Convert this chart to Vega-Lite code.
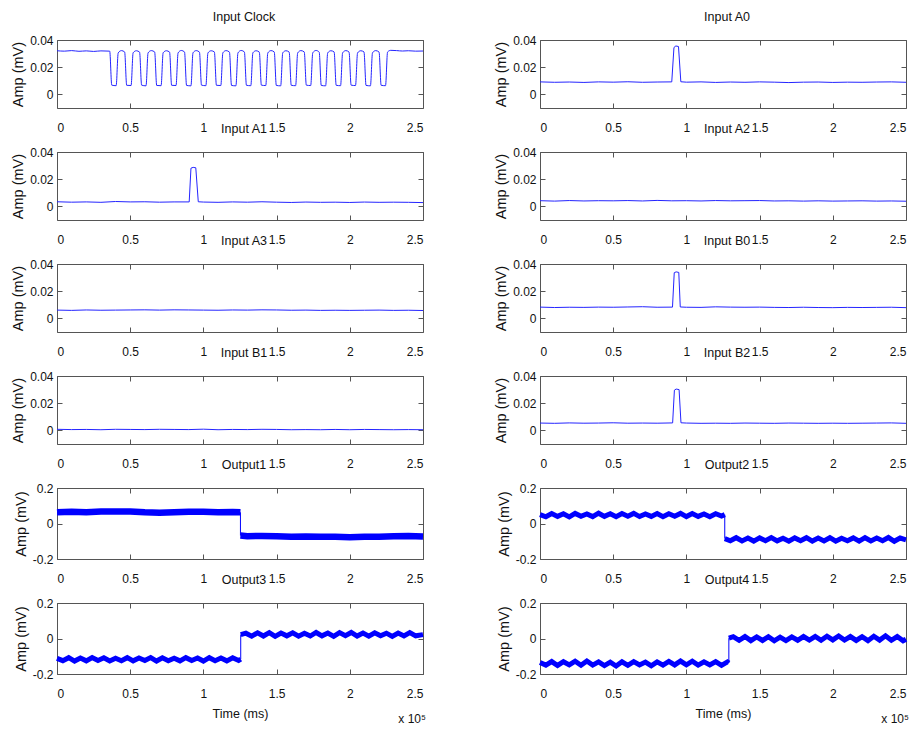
{
"$schema": "https://vega.github.io/schema/vega-lite/v6.json",
"background": "white",
"padding": {"left": 10, "top": 10, "right": 5, "bottom": 5},
"columns": 2,
"bounds": "flush",
"spacing": {"row": 44, "column": 117},
"config": {
  "font": "Liberation Sans",
  "view": {"stroke": "#555555", "strokeWidth": 1},
  "axis": {"domain": false, "grid": false, "tickSize": -5, "tickColor": "#555555", "labelFontSize": 12, "labelColor": "#111111", "titleFontSize": 12.5, "titleFontWeight": "normal", "titleColor": "#111111", "labelFont": "Liberation Sans", "titleFont": "Liberation Sans"},
  "axisBottom": {"labelPadding": 19, "titlePadding": 8},
  "axisLeft": {"labelPadding": 9, "titlePadding": 4, "titleFontSize": 14.5},
  "title": {"fontSize": 12.5, "fontWeight": "normal", "color": "#111111", "offset": 11, "baseline": "alphabetic", "dx": 4, "font": "Liberation Sans"},
  "line": {"color": "#2424ff", "strokeWidth": 1}
},
"concat": [
{"title": "Input Clock", "width": 366, "height": 68,
 "data": {"values": [{"t":0,"v":0.0321},{"t":0.05,"v":0.0318},{"t":0.1,"v":0.0322},{"t":0.15,"v":0.0317},{"t":0.2,"v":0.032},{"t":0.25,"v":0.0316},{"t":0.3,"v":0.032},{"t":0.36,"v":0.0318},
 {"t":0.374,"v":0.0068},{"t":0.404,"v":0.0064},{"t":0.418,"v":0.0305},{"t":0.44,"v":0.0322},
 {"t":0.462,"v":0.0312},{"t":0.476,"v":0.0067},{"t":0.506,"v":0.0065},{"t":0.52,"v":0.0306},{"t":0.542,"v":0.0321},
 {"t":0.564,"v":0.0311},{"t":0.578,"v":0.0068},{"t":0.608,"v":0.0063},{"t":0.622,"v":0.0305},{"t":0.644,"v":0.0322},
 {"t":0.667,"v":0.0312},{"t":0.681,"v":0.0066},{"t":0.711,"v":0.0064},{"t":0.725,"v":0.0306},{"t":0.747,"v":0.0321},
 {"t":0.769,"v":0.0311},{"t":0.783,"v":0.0067},{"t":0.813,"v":0.0065},{"t":0.827,"v":0.0305},{"t":0.849,"v":0.0323},
 {"t":0.871,"v":0.0312},{"t":0.885,"v":0.0066},{"t":0.915,"v":0.0063},{"t":0.929,"v":0.0306},{"t":0.951,"v":0.0322},
 {"t":0.973,"v":0.0311},{"t":0.987,"v":0.0068},{"t":1.017,"v":0.0064},{"t":1.031,"v":0.0305},{"t":1.053,"v":0.0321},
 {"t":1.075,"v":0.0312},{"t":1.089,"v":0.0067},{"t":1.119,"v":0.0065},{"t":1.133,"v":0.0306},{"t":1.155,"v":0.0322},
 {"t":1.178,"v":0.0311},{"t":1.192,"v":0.0066},{"t":1.222,"v":0.0063},{"t":1.236,"v":0.0305},{"t":1.258,"v":0.0323},
 {"t":1.28,"v":0.0312},{"t":1.294,"v":0.0067},{"t":1.324,"v":0.0064},{"t":1.338,"v":0.0306},{"t":1.36,"v":0.0321},
 {"t":1.382,"v":0.0311},{"t":1.396,"v":0.0068},{"t":1.426,"v":0.0065},{"t":1.44,"v":0.0305},{"t":1.462,"v":0.0322},
 {"t":1.484,"v":0.0312},{"t":1.498,"v":0.0066},{"t":1.528,"v":0.0063},{"t":1.542,"v":0.0306},{"t":1.564,"v":0.0321},
 {"t":1.586,"v":0.0311},{"t":1.6,"v":0.0067},{"t":1.63,"v":0.0064},{"t":1.644,"v":0.0305},{"t":1.666,"v":0.0322},
 {"t":1.689,"v":0.0312},{"t":1.703,"v":0.0068},{"t":1.733,"v":0.0065},{"t":1.747,"v":0.0306},{"t":1.769,"v":0.0323},
 {"t":1.791,"v":0.0311},{"t":1.805,"v":0.0066},{"t":1.835,"v":0.0063},{"t":1.849,"v":0.0305},{"t":1.871,"v":0.0321},
 {"t":1.893,"v":0.0312},{"t":1.907,"v":0.0067},{"t":1.937,"v":0.0064},{"t":1.951,"v":0.0306},{"t":1.973,"v":0.0322},
 {"t":1.995,"v":0.0311},{"t":2.009,"v":0.0068},{"t":2.039,"v":0.0065},{"t":2.053,"v":0.0305},{"t":2.075,"v":0.0321},
 {"t":2.097,"v":0.0312},{"t":2.111,"v":0.0066},{"t":2.141,"v":0.0063},{"t":2.155,"v":0.0306},{"t":2.177,"v":0.0322},
 {"t":2.2,"v":0.0311},{"t":2.214,"v":0.0067},{"t":2.244,"v":0.0064},{"t":2.258,"v":0.0312},
 {"t":2.28,"v":0.0324},{"t":2.32,"v":0.0322},{"t":2.36,"v":0.0319},{"t":2.4,"v":0.0321},{"t":2.45,"v":0.0318},{"t":2.5,"v":0.0319}]},
 "layer": [
  {"mark": {"type": "line", "interpolate": "monotone"},
   "encoding": {"x": {"field": "t", "type": "quantitative", "scale": {"domain": [0, 2.5], "nice": false}, "axis": {"values": [0, 0.5, 1, 1.5, 2, 2.5], "title": null, "labelExpr": "toString(datum.value)"}},
                "y": {"field": "v", "type": "quantitative", "scale": {"domain": [-0.01, 0.04], "nice": false, "zero": false}, "axis": {"values": [0, 0.02, 0.04], "title": "Amp (mV)", "labelExpr": "toString(datum.value)"}}}},
  {"mark": {"type": "point", "opacity": 0},
   "encoding": {"x": {"field": "t", "type": "quantitative", "axis": {"orient": "top", "values": [0, 0.5, 1, 1.5, 2, 2.5], "labels": false, "title": null}},
                "y": {"field": "v", "type": "quantitative", "axis": {"orient": "right", "values": [0, 0.02, 0.04], "labels": false, "title": null}}}}
 ],
 "resolve": {"axis": {"x": "independent", "y": "independent"}}},

{"title": "Input A0", "width": 366, "height": 68,
 "data": {"values": [{"t":0,"v":0.0092},{"t":0.1,"v":0.0089},{"t":0.2,"v":0.0091},{"t":0.3,"v":0.0088},{"t":0.4,"v":0.0092},{"t":0.5,"v":0.009},{"t":0.6,"v":0.0093},{"t":0.7,"v":0.0089},{"t":0.8,"v":0.0091},{"t":0.9,"v":0.0092},
 {"t":0.915,"v":0.0345},{"t":0.928,"v":0.0356},{"t":0.946,"v":0.0352},{"t":0.962,"v":0.0093},
 {"t":1.0,"v":0.009},{"t":1.1,"v":0.0092},{"t":1.2,"v":0.0088},{"t":1.3,"v":0.0091},{"t":1.4,"v":0.0089},{"t":1.5,"v":0.0092},{"t":1.6,"v":0.009},{"t":1.7,"v":0.0087},{"t":1.8,"v":0.009},{"t":1.9,"v":0.0091},{"t":2.0,"v":0.0088},{"t":2.1,"v":0.009},{"t":2.2,"v":0.0089},{"t":2.3,"v":0.0091},{"t":2.4,"v":0.0092},{"t":2.5,"v":0.0089}]},
 "layer": [
  {"mark": {"type": "line"},
   "encoding": {"x": {"field": "t", "type": "quantitative", "scale": {"domain": [0, 2.5], "nice": false}, "axis": {"values": [0, 0.5, 1, 1.5, 2, 2.5], "title": null, "labelExpr": "toString(datum.value)"}},
                "y": {"field": "v", "type": "quantitative", "scale": {"domain": [-0.01, 0.04], "nice": false, "zero": false}, "axis": {"values": [0, 0.02, 0.04], "title": "Amp (mV)", "labelExpr": "toString(datum.value)"}}}},
  {"mark": {"type": "point", "opacity": 0},
   "encoding": {"x": {"field": "t", "type": "quantitative", "axis": {"orient": "top", "values": [0, 0.5, 1, 1.5, 2, 2.5], "labels": false, "title": null}},
                "y": {"field": "v", "type": "quantitative", "axis": {"orient": "right", "values": [0, 0.02, 0.04], "labels": false, "title": null}}}}
 ],
 "resolve": {"axis": {"x": "independent", "y": "independent"}}},

{"title": "Input A1", "width": 366, "height": 68,
 "data": {"values": [{"t":0,"v":0.0034},{"t":0.1,"v":0.0031},{"t":0.2,"v":0.0033},{"t":0.3,"v":0.003},{"t":0.4,"v":0.0036},{"t":0.5,"v":0.0033},{"t":0.6,"v":0.0034},{"t":0.7,"v":0.0031},{"t":0.8,"v":0.0033},{"t":0.903,"v":0.0033},
 {"t":0.915,"v":0.0281},{"t":0.93,"v":0.0287},{"t":0.948,"v":0.0284},{"t":0.965,"v":0.0034},
 {"t":1.0,"v":0.0032},{"t":1.1,"v":0.003},{"t":1.2,"v":0.0033},{"t":1.3,"v":0.0031},{"t":1.4,"v":0.0034},{"t":1.5,"v":0.0031},{"t":1.6,"v":0.0029},{"t":1.7,"v":0.0032},{"t":1.8,"v":0.003},{"t":1.9,"v":0.0031},{"t":2.0,"v":0.0029},{"t":2.1,"v":0.0032},{"t":2.2,"v":0.003},{"t":2.3,"v":0.0031},{"t":2.4,"v":0.003},{"t":2.5,"v":0.0028}]},
 "layer": [
  {"mark": {"type": "line"},
   "encoding": {"x": {"field": "t", "type": "quantitative", "scale": {"domain": [0, 2.5], "nice": false}, "axis": {"values": [0, 0.5, 1, 1.5, 2, 2.5], "title": null, "labelExpr": "toString(datum.value)"}},
                "y": {"field": "v", "type": "quantitative", "scale": {"domain": [-0.01, 0.04], "nice": false, "zero": false}, "axis": {"values": [0, 0.02, 0.04], "title": "Amp (mV)", "labelExpr": "toString(datum.value)"}}}},
  {"mark": {"type": "point", "opacity": 0},
   "encoding": {"x": {"field": "t", "type": "quantitative", "axis": {"orient": "top", "values": [0, 0.5, 1, 1.5, 2, 2.5], "labels": false, "title": null}},
                "y": {"field": "v", "type": "quantitative", "axis": {"orient": "right", "values": [0, 0.02, 0.04], "labels": false, "title": null}}}}
 ],
 "resolve": {"axis": {"x": "independent", "y": "independent"}}},

{"title": "Input A2", "width": 366, "height": 68,
 "data": {"values": [{"t":0,"v":0.0042},{"t":0.1,"v":0.0039},{"t":0.2,"v":0.0043},{"t":0.3,"v":0.004},{"t":0.4,"v":0.0042},{"t":0.5,"v":0.0041},{"t":0.6,"v":0.0043},{"t":0.7,"v":0.004},{"t":0.8,"v":0.0044},{"t":0.9,"v":0.0041},{"t":1.0,"v":0.0042},{"t":1.1,"v":0.004},{"t":1.2,"v":0.0043},{"t":1.3,"v":0.0041},{"t":1.4,"v":0.0042},{"t":1.5,"v":0.0043},{"t":1.6,"v":0.004},{"t":1.7,"v":0.0041},{"t":1.8,"v":0.0039},{"t":1.9,"v":0.0041},{"t":2.0,"v":0.0039},{"t":2.1,"v":0.004},{"t":2.2,"v":0.0041},{"t":2.3,"v":0.0039},{"t":2.4,"v":0.004},{"t":2.5,"v":0.0038}]},
 "layer": [
  {"mark": {"type": "line"},
   "encoding": {"x": {"field": "t", "type": "quantitative", "scale": {"domain": [0, 2.5], "nice": false}, "axis": {"values": [0, 0.5, 1, 1.5, 2, 2.5], "title": null, "labelExpr": "toString(datum.value)"}},
                "y": {"field": "v", "type": "quantitative", "scale": {"domain": [-0.01, 0.04], "nice": false, "zero": false}, "axis": {"values": [0, 0.02, 0.04], "title": "Amp (mV)", "labelExpr": "toString(datum.value)"}}}},
  {"mark": {"type": "point", "opacity": 0},
   "encoding": {"x": {"field": "t", "type": "quantitative", "axis": {"orient": "top", "values": [0, 0.5, 1, 1.5, 2, 2.5], "labels": false, "title": null}},
                "y": {"field": "v", "type": "quantitative", "axis": {"orient": "right", "values": [0, 0.02, 0.04], "labels": false, "title": null}}}}
 ],
 "resolve": {"axis": {"x": "independent", "y": "independent"}}},

{"title": "Input A3", "width": 366, "height": 68,
 "data": {"values": [{"t":0,"v":0.0061},{"t":0.1,"v":0.0059},{"t":0.2,"v":0.0062},{"t":0.3,"v":0.006},{"t":0.4,"v":0.0061},{"t":0.5,"v":0.0062},{"t":0.6,"v":0.0063},{"t":0.7,"v":0.0061},{"t":0.8,"v":0.0063},{"t":0.9,"v":0.0062},{"t":1.0,"v":0.0061},{"t":1.1,"v":0.006},{"t":1.2,"v":0.0062},{"t":1.3,"v":0.0061},{"t":1.4,"v":0.0063},{"t":1.5,"v":0.0062},{"t":1.6,"v":0.006},{"t":1.7,"v":0.0061},{"t":1.8,"v":0.0059},{"t":1.9,"v":0.006},{"t":2.0,"v":0.0059},{"t":2.1,"v":0.006},{"t":2.2,"v":0.0061},{"t":2.3,"v":0.0059},{"t":2.4,"v":0.006},{"t":2.5,"v":0.0058}]},
 "layer": [
  {"mark": {"type": "line"},
   "encoding": {"x": {"field": "t", "type": "quantitative", "scale": {"domain": [0, 2.5], "nice": false}, "axis": {"values": [0, 0.5, 1, 1.5, 2, 2.5], "title": null, "labelExpr": "toString(datum.value)"}},
                "y": {"field": "v", "type": "quantitative", "scale": {"domain": [-0.01, 0.04], "nice": false, "zero": false}, "axis": {"values": [0, 0.02, 0.04], "title": "Amp (mV)", "labelExpr": "toString(datum.value)"}}}},
  {"mark": {"type": "point", "opacity": 0},
   "encoding": {"x": {"field": "t", "type": "quantitative", "axis": {"orient": "top", "values": [0, 0.5, 1, 1.5, 2, 2.5], "labels": false, "title": null}},
                "y": {"field": "v", "type": "quantitative", "axis": {"orient": "right", "values": [0, 0.02, 0.04], "labels": false, "title": null}}}}
 ],
 "resolve": {"axis": {"x": "independent", "y": "independent"}}},

{"title": "Input B0", "width": 366, "height": 68,
 "data": {"values": [{"t":0,"v":0.0083},{"t":0.1,"v":0.008},{"t":0.2,"v":0.0082},{"t":0.3,"v":0.0081},{"t":0.4,"v":0.0083},{"t":0.5,"v":0.0082},{"t":0.6,"v":0.0084},{"t":0.7,"v":0.0086},{"t":0.8,"v":0.0082},{"t":0.905,"v":0.0083},
 {"t":0.917,"v":0.0336},{"t":0.93,"v":0.0342},{"t":0.948,"v":0.0338},{"t":0.958,"v":0.0084},
 {"t":1.0,"v":0.0082},{"t":1.1,"v":0.0081},{"t":1.2,"v":0.0085},{"t":1.3,"v":0.0083},{"t":1.4,"v":0.0082},{"t":1.5,"v":0.0083},{"t":1.6,"v":0.0081},{"t":1.7,"v":0.008},{"t":1.8,"v":0.0082},{"t":1.9,"v":0.008},{"t":2.0,"v":0.0079},{"t":2.1,"v":0.0081},{"t":2.2,"v":0.008},{"t":2.3,"v":0.0081},{"t":2.4,"v":0.0082},{"t":2.5,"v":0.0079}]},
 "layer": [
  {"mark": {"type": "line"},
   "encoding": {"x": {"field": "t", "type": "quantitative", "scale": {"domain": [0, 2.5], "nice": false}, "axis": {"values": [0, 0.5, 1, 1.5, 2, 2.5], "title": null, "labelExpr": "toString(datum.value)"}},
                "y": {"field": "v", "type": "quantitative", "scale": {"domain": [-0.01, 0.04], "nice": false, "zero": false}, "axis": {"values": [0, 0.02, 0.04], "title": "Amp (mV)", "labelExpr": "toString(datum.value)"}}}},
  {"mark": {"type": "point", "opacity": 0},
   "encoding": {"x": {"field": "t", "type": "quantitative", "axis": {"orient": "top", "values": [0, 0.5, 1, 1.5, 2, 2.5], "labels": false, "title": null}},
                "y": {"field": "v", "type": "quantitative", "axis": {"orient": "right", "values": [0, 0.02, 0.04], "labels": false, "title": null}}}}
 ],
 "resolve": {"axis": {"x": "independent", "y": "independent"}}},

{"title": "Input B1", "width": 366, "height": 68,
 "data": {"values": [{"t":0,"v":0.0008},{"t":0.1,"v":0.0006},{"t":0.2,"v":0.0007},{"t":0.3,"v":0.0005},{"t":0.4,"v":0.0008},{"t":0.5,"v":0.0007},{"t":0.6,"v":0.0006},{"t":0.7,"v":0.0008},{"t":0.8,"v":0.0007},{"t":0.9,"v":0.0006},{"t":1.0,"v":0.0009},{"t":1.1,"v":0.0005},{"t":1.2,"v":0.0007},{"t":1.3,"v":0.0006},{"t":1.4,"v":0.0008},{"t":1.5,"v":0.0007},{"t":1.6,"v":0.0005},{"t":1.7,"v":0.0006},{"t":1.8,"v":0.0005},{"t":1.9,"v":0.0007},{"t":2.0,"v":0.0005},{"t":2.1,"v":0.0007},{"t":2.2,"v":0.0006},{"t":2.3,"v":0.0005},{"t":2.4,"v":0.0006},{"t":2.5,"v":0.0005}]},
 "layer": [
  {"mark": {"type": "line"},
   "encoding": {"x": {"field": "t", "type": "quantitative", "scale": {"domain": [0, 2.5], "nice": false}, "axis": {"values": [0, 0.5, 1, 1.5, 2, 2.5], "title": null, "labelExpr": "toString(datum.value)"}},
                "y": {"field": "v", "type": "quantitative", "scale": {"domain": [-0.01, 0.04], "nice": false, "zero": false}, "axis": {"values": [0, 0.02, 0.04], "title": "Amp (mV)", "labelExpr": "toString(datum.value)"}}}},
  {"mark": {"type": "point", "opacity": 0},
   "encoding": {"x": {"field": "t", "type": "quantitative", "axis": {"orient": "top", "values": [0, 0.5, 1, 1.5, 2, 2.5], "labels": false, "title": null}},
                "y": {"field": "v", "type": "quantitative", "axis": {"orient": "right", "values": [0, 0.02, 0.04], "labels": false, "title": null}}}}
 ],
 "resolve": {"axis": {"x": "independent", "y": "independent"}}},

{"title": "Input B2", "width": 366, "height": 68,
 "data": {"values": [{"t":0,"v":0.0054},{"t":0.1,"v":0.0052},{"t":0.2,"v":0.0055},{"t":0.3,"v":0.0053},{"t":0.4,"v":0.0054},{"t":0.5,"v":0.0056},{"t":0.6,"v":0.0053},{"t":0.7,"v":0.0054},{"t":0.8,"v":0.0053},{"t":0.906,"v":0.0055},
 {"t":0.918,"v":0.0296},{"t":0.93,"v":0.0304},{"t":0.95,"v":0.03},{"t":0.963,"v":0.0056},
 {"t":1.0,"v":0.0054},{"t":1.1,"v":0.0052},{"t":1.2,"v":0.0053},{"t":1.3,"v":0.0052},{"t":1.4,"v":0.0054},{"t":1.5,"v":0.0053},{"t":1.6,"v":0.0052},{"t":1.7,"v":0.0054},{"t":1.8,"v":0.0053},{"t":1.9,"v":0.0052},{"t":2.0,"v":0.0053},{"t":2.1,"v":0.0052},{"t":2.2,"v":0.0053},{"t":2.3,"v":0.0054},{"t":2.4,"v":0.0055},{"t":2.5,"v":0.0052}]},
 "layer": [
  {"mark": {"type": "line"},
   "encoding": {"x": {"field": "t", "type": "quantitative", "scale": {"domain": [0, 2.5], "nice": false}, "axis": {"values": [0, 0.5, 1, 1.5, 2, 2.5], "title": null, "labelExpr": "toString(datum.value)"}},
                "y": {"field": "v", "type": "quantitative", "scale": {"domain": [-0.01, 0.04], "nice": false, "zero": false}, "axis": {"values": [0, 0.02, 0.04], "title": "Amp (mV)", "labelExpr": "toString(datum.value)"}}}},
  {"mark": {"type": "point", "opacity": 0},
   "encoding": {"x": {"field": "t", "type": "quantitative", "axis": {"orient": "top", "values": [0, 0.5, 1, 1.5, 2, 2.5], "labels": false, "title": null}},
                "y": {"field": "v", "type": "quantitative", "axis": {"orient": "right", "values": [0, 0.02, 0.04], "labels": false, "title": null}}}}
 ],
 "resolve": {"axis": {"x": "independent", "y": "independent"}}},

{"title": "Output1", "width": 366, "height": 71,
 "data": {"values": [{"g":"a","t":0,"v":0.063},{"g":"a","t":0.1,"v":0.066},{"g":"a","t":0.2,"v":0.064},{"g":"a","t":0.3,"v":0.068},{"g":"a","t":0.4,"v":0.067},{"g":"a","t":0.5,"v":0.068},{"g":"a","t":0.6,"v":0.063},{"g":"a","t":0.7,"v":0.061},{"g":"a","t":0.8,"v":0.064},{"g":"a","t":0.9,"v":0.066},{"g":"a","t":1.0,"v":0.066},{"g":"a","t":1.1,"v":0.064},{"g":"a","t":1.2,"v":0.065},{"g":"a","t":1.253,"v":0.063},
 {"g":"s","t":1.253,"v":0.063},{"g":"s","t":1.253,"v":-0.068},
 {"g":"b","t":1.253,"v":-0.068},{"g":"b","t":1.3,"v":-0.072},{"g":"b","t":1.4,"v":-0.07},{"g":"b","t":1.5,"v":-0.072},{"g":"b","t":1.6,"v":-0.075},{"g":"b","t":1.7,"v":-0.073},{"g":"b","t":1.8,"v":-0.074},{"g":"b","t":1.9,"v":-0.075},{"g":"b","t":2.0,"v":-0.077},{"g":"b","t":2.1,"v":-0.075},{"g":"b","t":2.2,"v":-0.074},{"g":"b","t":2.3,"v":-0.072},{"g":"b","t":2.4,"v":-0.071},{"g":"b","t":2.5,"v":-0.073}]},
 "layer": [
  {"transform": [{"filter": "datum.g != 's'"}],
   "mark": {"type": "line", "color": "#0000ff", "strokeWidth": 6.5},
   "encoding": {"x": {"field": "t", "type": "quantitative", "scale": {"domain": [0, 2.5], "nice": false}, "axis": {"values": [0, 0.5, 1, 1.5, 2, 2.5], "title": null, "labelExpr": "toString(datum.value)"}},
                "y": {"field": "v", "type": "quantitative", "scale": {"domain": [-0.2, 0.2], "nice": false, "zero": false}, "axis": {"values": [-0.2, 0, 0.2], "title": "Amp (mV)", "labelExpr": "toString(datum.value)"}},
                "detail": {"field": "g"}}},
  {"transform": [{"filter": "datum.g == 's'"}],
   "mark": {"type": "line", "color": "#0000ff", "strokeWidth": 1},
   "encoding": {"x": {"field": "t", "type": "quantitative", "axis": null}, "y": {"field": "v", "type": "quantitative", "axis": null}}},
  {"mark": {"type": "point", "opacity": 0},
   "encoding": {"x": {"field": "t", "type": "quantitative", "axis": {"orient": "top", "values": [0, 0.5, 1, 1.5, 2, 2.5], "labels": false, "title": null}},
                "y": {"field": "v", "type": "quantitative", "axis": {"orient": "right", "values": [-0.2, 0, 0.2], "labels": false, "title": null}}}}
 ],
 "resolve": {"axis": {"x": "independent", "y": "independent"}}},

{"title": "Output2", "width": 366, "height": 71,
 "data": {"values": [{"g":"a","t":0,"v":0.05},{"g":"a","t":0.04,"v":0.038},{"g":"a","t":0.08,"v":0.056},{"g":"a","t":0.12,"v":0.04},{"g":"a","t":0.16,"v":0.055},{"g":"a","t":0.2,"v":0.037},{"g":"a","t":0.24,"v":0.057},{"g":"a","t":0.28,"v":0.041},{"g":"a","t":0.32,"v":0.054},{"g":"a","t":0.36,"v":0.039},{"g":"a","t":0.4,"v":0.058},{"g":"a","t":0.44,"v":0.04},{"g":"a","t":0.48,"v":0.055},{"g":"a","t":0.52,"v":0.038},{"g":"a","t":0.56,"v":0.056},{"g":"a","t":0.6,"v":0.041},{"g":"a","t":0.64,"v":0.057},{"g":"a","t":0.68,"v":0.039},{"g":"a","t":0.72,"v":0.054},{"g":"a","t":0.76,"v":0.04},{"g":"a","t":0.8,"v":0.056},{"g":"a","t":0.84,"v":0.038},{"g":"a","t":0.88,"v":0.055},{"g":"a","t":0.92,"v":0.041},{"g":"a","t":0.96,"v":0.057},{"g":"a","t":1.0,"v":0.039},{"g":"a","t":1.04,"v":0.056},{"g":"a","t":1.08,"v":0.04},{"g":"a","t":1.12,"v":0.054},{"g":"a","t":1.16,"v":0.038},{"g":"a","t":1.2,"v":0.055},{"g":"a","t":1.24,"v":0.042},{"g":"a","t":1.262,"v":0.05},
 {"g":"s","t":1.262,"v":0.05},{"g":"s","t":1.262,"v":-0.085},
 {"g":"b","t":1.262,"v":-0.085},{"g":"b","t":1.3,"v":-0.097},{"g":"b","t":1.34,"v":-0.08},{"g":"b","t":1.38,"v":-0.098},{"g":"b","t":1.42,"v":-0.082},{"g":"b","t":1.46,"v":-0.099},{"g":"b","t":1.5,"v":-0.081},{"g":"b","t":1.54,"v":-0.097},{"g":"b","t":1.58,"v":-0.079},{"g":"b","t":1.62,"v":-0.098},{"g":"b","t":1.66,"v":-0.083},{"g":"b","t":1.7,"v":-0.1},{"g":"b","t":1.74,"v":-0.081},{"g":"b","t":1.78,"v":-0.097},{"g":"b","t":1.82,"v":-0.08},{"g":"b","t":1.86,"v":-0.099},{"g":"b","t":1.9,"v":-0.082},{"g":"b","t":1.94,"v":-0.098},{"g":"b","t":1.98,"v":-0.08},{"g":"b","t":2.02,"v":-0.1},{"g":"b","t":2.06,"v":-0.083},{"g":"b","t":2.1,"v":-0.097},{"g":"b","t":2.14,"v":-0.081},{"g":"b","t":2.18,"v":-0.099},{"g":"b","t":2.22,"v":-0.08},{"g":"b","t":2.26,"v":-0.098},{"g":"b","t":2.3,"v":-0.082},{"g":"b","t":2.34,"v":-0.097},{"g":"b","t":2.38,"v":-0.079},{"g":"b","t":2.42,"v":-0.1},{"g":"b","t":2.46,"v":-0.082},{"g":"b","t":2.5,"v":-0.092}]},
 "layer": [
  {"transform": [{"filter": "datum.g != 's'"}],
   "mark": {"type": "line", "color": "#0000ff", "strokeWidth": 5},
   "encoding": {"x": {"field": "t", "type": "quantitative", "scale": {"domain": [0, 2.5], "nice": false}, "axis": {"values": [0, 0.5, 1, 1.5, 2, 2.5], "title": null, "labelExpr": "toString(datum.value)"}},
                "y": {"field": "v", "type": "quantitative", "scale": {"domain": [-0.2, 0.2], "nice": false, "zero": false}, "axis": {"values": [-0.2, 0, 0.2], "title": "Amp (mV)", "labelExpr": "toString(datum.value)"}},
                "detail": {"field": "g"}}},
  {"transform": [{"filter": "datum.g == 's'"}],
   "mark": {"type": "line", "color": "#0000ff", "strokeWidth": 1},
   "encoding": {"x": {"field": "t", "type": "quantitative", "axis": null}, "y": {"field": "v", "type": "quantitative", "axis": null}}},
  {"mark": {"type": "point", "opacity": 0},
   "encoding": {"x": {"field": "t", "type": "quantitative", "axis": {"orient": "top", "values": [0, 0.5, 1, 1.5, 2, 2.5], "labels": false, "title": null}},
                "y": {"field": "v", "type": "quantitative", "axis": {"orient": "right", "values": [-0.2, 0, 0.2], "labels": false, "title": null}}}}
 ],
 "resolve": {"axis": {"x": "independent", "y": "independent"}}},

{"title": "Output3", "width": 366, "height": 71,
 "data": {"values": [{"g":"a","t":0,"v":-0.112},{"g":"a","t":0.04,"v":-0.125},{"g":"a","t":0.08,"v":-0.108},{"g":"a","t":0.12,"v":-0.127},{"g":"a","t":0.16,"v":-0.11},{"g":"a","t":0.2,"v":-0.126},{"g":"a","t":0.24,"v":-0.107},{"g":"a","t":0.28,"v":-0.124},{"g":"a","t":0.32,"v":-0.109},{"g":"a","t":0.36,"v":-0.127},{"g":"a","t":0.4,"v":-0.111},{"g":"a","t":0.44,"v":-0.125},{"g":"a","t":0.48,"v":-0.108},{"g":"a","t":0.52,"v":-0.126},{"g":"a","t":0.56,"v":-0.11},{"g":"a","t":0.6,"v":-0.124},{"g":"a","t":0.64,"v":-0.107},{"g":"a","t":0.68,"v":-0.127},{"g":"a","t":0.72,"v":-0.109},{"g":"a","t":0.76,"v":-0.125},{"g":"a","t":0.8,"v":-0.111},{"g":"a","t":0.84,"v":-0.126},{"g":"a","t":0.88,"v":-0.108},{"g":"a","t":0.92,"v":-0.124},{"g":"a","t":0.96,"v":-0.11},{"g":"a","t":1.0,"v":-0.127},{"g":"a","t":1.04,"v":-0.108},{"g":"a","t":1.08,"v":-0.125},{"g":"a","t":1.12,"v":-0.11},{"g":"a","t":1.16,"v":-0.126},{"g":"a","t":1.2,"v":-0.109},{"g":"a","t":1.24,"v":-0.124},{"g":"a","t":1.255,"v":-0.116},
 {"g":"s","t":1.255,"v":-0.116},{"g":"s","t":1.255,"v":0.022},
 {"g":"b","t":1.255,"v":0.022},{"g":"b","t":1.29,"v":0.03},{"g":"b","t":1.33,"v":0.013},{"g":"b","t":1.37,"v":0.032},{"g":"b","t":1.41,"v":0.014},{"g":"b","t":1.45,"v":0.033},{"g":"b","t":1.49,"v":0.012},{"g":"b","t":1.53,"v":0.031},{"g":"b","t":1.57,"v":0.015},{"g":"b","t":1.61,"v":0.032},{"g":"b","t":1.65,"v":0.013},{"g":"b","t":1.69,"v":0.03},{"g":"b","t":1.73,"v":0.014},{"g":"b","t":1.77,"v":0.034},{"g":"b","t":1.81,"v":0.015},{"g":"b","t":1.85,"v":0.031},{"g":"b","t":1.89,"v":0.012},{"g":"b","t":1.93,"v":0.033},{"g":"b","t":1.97,"v":0.016},{"g":"b","t":2.01,"v":0.034},{"g":"b","t":2.05,"v":0.014},{"g":"b","t":2.09,"v":0.031},{"g":"b","t":2.13,"v":0.013},{"g":"b","t":2.17,"v":0.032},{"g":"b","t":2.21,"v":0.015},{"g":"b","t":2.25,"v":0.03},{"g":"b","t":2.29,"v":0.012},{"g":"b","t":2.33,"v":0.031},{"g":"b","t":2.37,"v":0.014},{"g":"b","t":2.41,"v":0.033},{"g":"b","t":2.45,"v":0.015},{"g":"b","t":2.5,"v":0.022}]},
 "layer": [
  {"transform": [{"filter": "datum.g != 's'"}],
   "mark": {"type": "line", "color": "#0000ff", "strokeWidth": 5},
   "encoding": {"x": {"field": "t", "type": "quantitative", "scale": {"domain": [0, 2.5], "nice": false}, "axis": {"values": [0, 0.5, 1, 1.5, 2, 2.5], "title": "Time (ms)", "labelExpr": "toString(datum.value)"}},
                "y": {"field": "v", "type": "quantitative", "scale": {"domain": [-0.2, 0.2], "nice": false, "zero": false}, "axis": {"values": [-0.2, 0, 0.2], "title": "Amp (mV)", "labelExpr": "toString(datum.value)"}},
                "detail": {"field": "g"}}},
  {"transform": [{"filter": "datum.g == 's'"}],
   "mark": {"type": "line", "color": "#0000ff", "strokeWidth": 1},
   "encoding": {"x": {"field": "t", "type": "quantitative", "axis": null}, "y": {"field": "v", "type": "quantitative", "axis": null}}},
  {"mark": {"type": "point", "opacity": 0},
   "encoding": {"x": {"field": "t", "type": "quantitative", "axis": {"orient": "top", "values": [0, 0.5, 1, 1.5, 2, 2.5], "labels": false, "title": null}},
                "y": {"field": "v", "type": "quantitative", "axis": {"orient": "right", "values": [-0.2, 0, 0.2], "labels": false, "title": null}}}},
  {"data": {"values": [{"note": "x 10⁵"}]},
   "mark": {"type": "text", "align": "right", "baseline": "middle", "dy": 45, "dx": 3, "fontSize": 12, "color": "#111111"},
   "encoding": {"text": {"field": "note"}, "x": {"datum": 2.5, "type": "quantitative", "axis": null}, "y": {"datum": -0.2, "type": "quantitative", "axis": null}}}
 ],
 "resolve": {"axis": {"x": "independent", "y": "independent"}}},

{"title": "Output4", "width": 366, "height": 71,
 "data": {"values": [{"g":"a","t":0,"v":-0.135},{"g":"a","t":0.04,"v":-0.15},{"g":"a","t":0.08,"v":-0.13},{"g":"a","t":0.12,"v":-0.152},{"g":"a","t":0.16,"v":-0.131},{"g":"a","t":0.2,"v":-0.149},{"g":"a","t":0.24,"v":-0.128},{"g":"a","t":0.28,"v":-0.151},{"g":"a","t":0.32,"v":-0.127},{"g":"a","t":0.36,"v":-0.15},{"g":"a","t":0.4,"v":-0.132},{"g":"a","t":0.44,"v":-0.153},{"g":"a","t":0.48,"v":-0.133},{"g":"a","t":0.52,"v":-0.155},{"g":"a","t":0.56,"v":-0.131},{"g":"a","t":0.6,"v":-0.151},{"g":"a","t":0.64,"v":-0.13},{"g":"a","t":0.68,"v":-0.149},{"g":"a","t":0.72,"v":-0.133},{"g":"a","t":0.76,"v":-0.154},{"g":"a","t":0.8,"v":-0.132},{"g":"a","t":0.84,"v":-0.15},{"g":"a","t":0.88,"v":-0.129},{"g":"a","t":0.92,"v":-0.149},{"g":"a","t":0.96,"v":-0.127},{"g":"a","t":1.0,"v":-0.148},{"g":"a","t":1.04,"v":-0.128},{"g":"a","t":1.08,"v":-0.15},{"g":"a","t":1.12,"v":-0.131},{"g":"a","t":1.16,"v":-0.149},{"g":"a","t":1.2,"v":-0.13},{"g":"a","t":1.24,"v":-0.151},{"g":"a","t":1.28,"v":-0.132},{"g":"a","t":1.29,"v":-0.138},
 {"g":"s","t":1.29,"v":-0.138},{"g":"s","t":1.29,"v":0.002},
 {"g":"b","t":1.29,"v":0.002},{"g":"b","t":1.32,"v":0.01},{"g":"b","t":1.36,"v":-0.01},{"g":"b","t":1.4,"v":0.011},{"g":"b","t":1.44,"v":-0.012},{"g":"b","t":1.48,"v":0.009},{"g":"b","t":1.52,"v":-0.011},{"g":"b","t":1.56,"v":0.01},{"g":"b","t":1.6,"v":-0.013},{"g":"b","t":1.64,"v":0.008},{"g":"b","t":1.68,"v":-0.012},{"g":"b","t":1.72,"v":0.009},{"g":"b","t":1.76,"v":-0.01},{"g":"b","t":1.8,"v":0.011},{"g":"b","t":1.84,"v":-0.009},{"g":"b","t":1.88,"v":0.012},{"g":"b","t":1.92,"v":-0.01},{"g":"b","t":1.96,"v":0.013},{"g":"b","t":2.0,"v":-0.008},{"g":"b","t":2.04,"v":0.014},{"g":"b","t":2.08,"v":-0.009},{"g":"b","t":2.12,"v":0.011},{"g":"b","t":2.16,"v":-0.011},{"g":"b","t":2.2,"v":0.01},{"g":"b","t":2.24,"v":-0.012},{"g":"b","t":2.28,"v":0.013},{"g":"b","t":2.32,"v":-0.009},{"g":"b","t":2.36,"v":0.015},{"g":"b","t":2.4,"v":-0.01},{"g":"b","t":2.44,"v":0.011},{"g":"b","t":2.48,"v":-0.013},{"g":"b","t":2.5,"v":-0.004}]},
 "layer": [
  {"transform": [{"filter": "datum.g != 's'"}],
   "mark": {"type": "line", "color": "#0000ff", "strokeWidth": 5},
   "encoding": {"x": {"field": "t", "type": "quantitative", "scale": {"domain": [0, 2.5], "nice": false}, "axis": {"values": [0, 0.5, 1, 1.5, 2, 2.5], "title": "Time (ms)", "labelExpr": "toString(datum.value)"}},
                "y": {"field": "v", "type": "quantitative", "scale": {"domain": [-0.2, 0.2], "nice": false, "zero": false}, "axis": {"values": [-0.2, 0, 0.2], "title": "Amp (mV)", "labelExpr": "toString(datum.value)"}},
                "detail": {"field": "g"}}},
  {"transform": [{"filter": "datum.g == 's'"}],
   "mark": {"type": "line", "color": "#0000ff", "strokeWidth": 1},
   "encoding": {"x": {"field": "t", "type": "quantitative", "axis": null}, "y": {"field": "v", "type": "quantitative", "axis": null}}},
  {"mark": {"type": "point", "opacity": 0},
   "encoding": {"x": {"field": "t", "type": "quantitative", "axis": {"orient": "top", "values": [0, 0.5, 1, 1.5, 2, 2.5], "labels": false, "title": null}},
                "y": {"field": "v", "type": "quantitative", "axis": {"orient": "right", "values": [-0.2, 0, 0.2], "labels": false, "title": null}}}},
  {"data": {"values": [{"note": "x 10⁵"}]},
   "mark": {"type": "text", "align": "right", "baseline": "middle", "dy": 45, "dx": 3, "fontSize": 12, "color": "#111111"},
   "encoding": {"text": {"field": "note"}, "x": {"datum": 2.5, "type": "quantitative", "axis": null}, "y": {"datum": -0.2, "type": "quantitative", "axis": null}}}
 ],
 "resolve": {"axis": {"x": "independent", "y": "independent"}}}
]
}
